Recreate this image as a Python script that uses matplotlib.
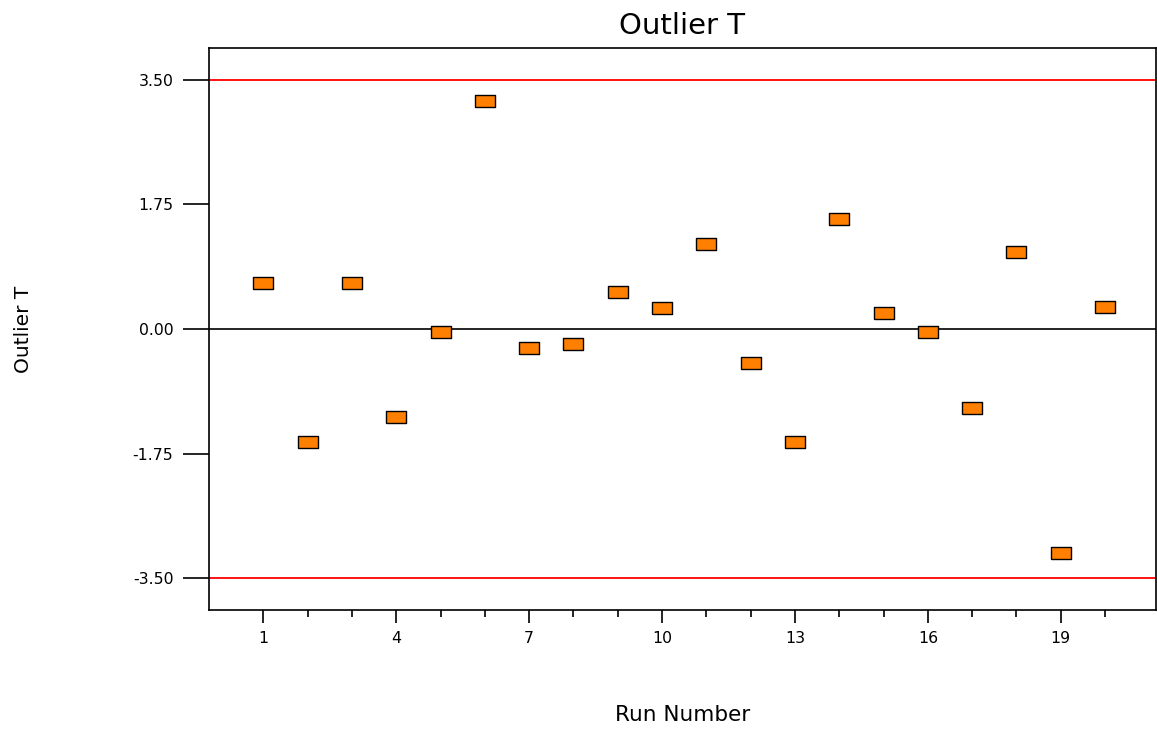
import numpy as np
import matplotlib.pyplot as plt
from matplotlib.ticker import FixedLocator

plt.rcParams['font.family'] = ['DejaVu Sans']

# externally studentized residuals per run
run = np.arange(1, 21)
outlier_t = [0.65, -1.59, 0.65, -1.24, -0.04, 3.20, -0.27, -0.21, 0.52, 0.30,
             1.19, -0.48, -1.59, 1.55, 0.22, -0.04, -1.11, 1.08, -3.15, 0.31]
limit = 3.50
yticks = [-3.50, -1.75, 0.00, 1.75, 3.50]
xticks = [1, 4, 7, 10, 13, 16, 19]

box = [(-1, -0.55), (1, -0.55), (1, 0.55), (-1, 0.55), (-1, -0.55)]

fig = plt.figure(figsize=(11.57, 7.29), dpi=100)
ax = fig.add_axes([0.1806, 0.1632, 0.8185, 0.771])

ax.axhline(limit, color="red", lw=1.3, zorder=1)
ax.axhline(-limit, color="red", lw=1.3, zorder=1)
ax.axhline(0, color="black", lw=1.2, zorder=1)
ax.plot(run, outlier_t, ls="none", marker=box, ms=15,
        mfc="#ff8000", mec="black", mew=1.0, zorder=3)

ax.set_xlim(-0.23, 21.15)
ax.set_ylim(-3.95, 3.95)
ax.set_xticks(xticks)
ax.xaxis.set_minor_locator(FixedLocator(run))
ax.set_yticks(yticks)
ax.set_yticklabels(["%.2f" % v for v in yticks])

ax.tick_params(axis="x", which="major", length=9.4, width=1.2, pad=6, labelsize=11.3)
ax.tick_params(axis="x", which="minor", length=5, width=1.2)
ax.tick_params(axis="y", which="major", length=18.7, width=1.2, pad=7, labelsize=11.3)
for s in ax.spines.values():
    s.set_linewidth(1.2)

ax.set_title("Outlier T", fontsize=21, pad=10)
ax.set_xlabel("Run Number", fontsize=15.5, va="center")
ax.xaxis.set_label_coords(0.5, -0.187)
ax.set_ylabel("Outlier T", fontsize=14.5, va="center")
ax.yaxis.set_label_coords(-0.196, 0.5)

fig.savefig("out.png", dpi=100)
